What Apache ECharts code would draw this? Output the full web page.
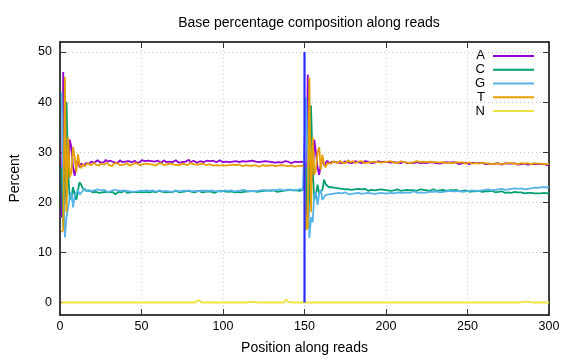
<!DOCTYPE html>
<html>
<head>
<meta charset="utf-8">
<script src="https://cdn.jsdelivr.net/npm/echarts@6/dist/echarts.min.js"></script>
<style>html,body{margin:0;padding:0;background:#fff}#c{width:576px;height:360px}</style>
</head>
<body>
<div id="c"></div>
<script>
const titleText = 'Base percentage composition along reads';
const xName = 'Position along reads';
const yName = 'Percent';
const seriesNames = ['A', 'C', 'G', 'T', 'N'];
const seriesColors = ['#9400d3', '#009e73', '#56b4e9', '#e69f00', '#f0e442'];
const yTicks = [0, 10, 20, 30, 40, 50];
const splitPos = 150;
const splitRange = [0, 50];

const A = [
17,46,21,25,24,32.5,31,27,25.3,27.5,28.5,27,27.8,27.3,27.6,
27.8,28.0,27.7,28.1,28.3,27.9,28.0,28.4,28.1,27.9,
28.2,28.0,28.5,28.1,27.9,28.3,28.6,28.0,28.2,27.8,
28.1,28.4,28.0,28.3,28.1,27.9,28.2,28.5,28.0,28.1,
28.3,27.9,28.2,28.0,28.4,28.1,28.2,27.9,28.3,28.0,
28.2,28.5,28.1,28.0,28.3,28.2,27.9,28.1,28.4,28.0,
28.2,28.1,28.3,28.0,28.2,28.4,28.1,27.9,28.2,28.0,
28.3,28.1,28.2,28.5,28.0,28.1,28.3,28.2,27.9,28.1,
28.2,28.4,28.0,28.1,28.3,28.1,28.2,28.0,28.3,28.1,
28.0,28.2,28.4,28.1,28.0,28.2,28.1,28.3,28.0,28.2,
28.1,27.9,28.2,28.3,28.0,28.1,28.2,28.4,28.1,28.0,
28.2,28.1,28.3,28.0,28.1,28.2,28.0,28.3,28.1,27.9,
28.2,28.0,28.1,28.3,28.0,28.1,27.9,28.2,28.0,28.1,
27.9,28.0,28.2,27.9,28.1,28.0,27.8,28.0,28.1,27.9,
28.0,27.9,28.1,28.0,27.9,
17,45.5,21,25,24,32.5,30,27,25.5,27.5,28.5,27.3,27.9,28.3,27.8,
27.9,28.1,27.8,28.0,28.2,27.9,28.1,27.8,28.0,28.2,
28.1,27.9,28.0,27.8,28.1,28.2,27.9,28.0,28.1,27.8,
28.0,28.2,27.9,28.1,28.0,27.8,28.1,27.9,28.0,28.2,
27.9,28.0,27.8,28.1,27.9,28.0,28.2,27.9,27.8,28.0,
28.1,27.9,28.0,27.8,28.0,28.1,27.9,27.8,28.0,27.9,
28.1,27.8,27.9,28.0,27.9,27.8,28.0,27.9,28.1,27.8,
27.9,28.0,27.8,27.9,28.1,27.8,27.9,27.7,28.0,27.9,
27.8,28.0,27.7,27.9,27.8,28.0,27.7,27.9,27.8,27.6,
27.9,27.8,27.7,27.9,27.8,27.6,27.8,27.9,27.7,27.8,
27.6,27.8,27.7,27.9,27.7,27.6,27.8,27.7,27.9,27.6,
27.8,27.7,27.6,27.8,27.7,27.5,27.7,27.8,27.6,27.7,
27.5,27.7,27.6,27.8,27.6,27.5,27.7,27.6,27.5,27.7,
27.6,27.5,27.7,27.6,27.5,27.6,27.4,27.6,27.5,27.6,
27.5,27.6,27.5,27.4,27.6
];

const C = [
27,15,21,40,26,20.5,21,23,21.5,20.5,22.3,24,23.5,22.8,22.5,
22.3,22.1,22.4,22.2,22.0,22.3,22.1,22.2,21.9,22.2,
22.0,22.3,22.1,22.2,22.0,22.3,22.1,21.9,21.6,21.8,
22.1,22.2,22.0,22.1,22.3,21.9,22.1,22.0,22.2,22.1,
21.9,22.0,22.2,22.1,21.9,22.0,22.2,22.1,22.3,22.0,
22.1,22.2,21.9,22.0,22.1,22.3,22.0,22.1,22.2,22.0,
21.9,22.1,22.2,22.0,22.1,22.3,22.1,22.0,22.2,22.1,
22.0,22.2,22.1,22.3,22.0,22.1,22.2,22.0,22.1,22.3,
22.1,22.0,22.2,22.1,22.3,22.2,22.0,22.1,22.2,21.9,
22.1,22.2,22.0,22.3,22.1,22.2,22.0,22.1,22.3,22.2,
22.1,22.0,22.2,22.1,22.3,22.0,22.2,22.1,22.3,22.2,
22.0,22.2,22.1,22.3,22.2,22.1,22.4,22.2,22.1,22.3,
22.2,22.4,22.1,22.3,22.2,22.4,22.3,22.1,22.3,22.2,
22.4,22.3,22.2,22.4,22.3,22.5,22.3,22.4,22.2,22.4,
22.5,22.3,22.4,22.5,22.4,
27,15,21.5,39.3,27,20.5,21.5,23.5,21.8,21.5,22.5,24.5,23.6,23.3,23.0,
23.2,23.0,23.3,22.9,23.1,22.8,23.0,22.7,22.9,22.6,
22.8,22.6,22.7,22.5,22.8,22.6,22.4,22.7,22.5,22.6,
22.4,22.7,22.5,22.3,22.6,22.5,22.7,22.4,22.6,22.5,
22.3,22.6,22.4,22.5,22.7,22.4,22.5,22.3,22.6,22.4,
22.5,22.6,22.4,22.3,22.5,22.4,22.6,22.5,22.3,22.4,
22.6,22.4,22.5,22.3,22.4,22.6,22.4,22.5,22.3,22.4,
22.5,22.3,22.4,22.6,22.4,22.3,22.5,22.4,22.3,22.5,
22.4,22.3,22.5,22.4,22.2,22.4,22.3,22.5,22.3,22.2,
22.4,22.3,22.2,22.4,22.3,22.1,22.3,22.2,22.4,22.2,
22.1,22.3,22.2,22.1,22.3,22.2,22.0,22.2,22.1,22.3,
22.1,22.0,22.2,22.1,22.0,22.2,22.1,21.9,22.1,22.0,
22.1,21.9,22.0,22.1,21.9,22.0,21.8,22.0,21.9,21.8,
22.0,21.9,21.8,21.9,22.0,21.8,21.9,21.8,21.9,21.8,
21.7,21.9,21.8,21.8,21.9
];

const G = [
42,24.5,13,17,17,21,22,19,21.2,22,22.5,21.5,21.9,22.3,22.7,
22.4,22.2,22.5,22.3,22.1,22.4,22.2,22.6,22.3,22.4,
22.2,22.5,22.3,22.1,22.4,22.2,22.3,22.5,22.8,22.4,
22.2,22.3,22.1,22.4,22.2,22.3,22.5,22.2,22.4,22.1,
22.3,22.2,22.4,22.3,22.1,22.3,22.2,22.4,22.1,22.3,
22.2,22.4,22.3,22.1,22.2,22.4,22.3,22.2,22.1,22.3,
22.4,22.2,22.3,22.1,22.2,22.4,22.3,22.2,22.4,22.3,
22.1,22.3,22.2,22.4,22.3,22.2,22.1,22.3,22.4,22.2,
22.3,22.4,22.2,22.3,22.1,22.3,22.2,22.4,22.3,22.2,
22.4,22.3,22.2,22.1,22.3,22.4,22.2,22.3,22.2,22.4,
22.3,22.2,22.4,22.3,22.2,22.4,22.3,22.5,22.3,22.2,
22.4,22.3,22.5,22.2,22.4,22.3,22.5,22.4,22.3,22.5,
22.4,22.3,22.5,22.4,22.6,22.4,22.3,22.5,22.4,22.6,
22.5,22.4,22.6,22.5,22.4,22.6,22.5,22.4,22.6,22.5,
22.4,22.6,22.5,22.6,22.5,
41,24.5,12.9,17,16,21.5,22,19.5,21.7,22.5,20.5,21.0,21.5,21.3,21.6,
21.4,21.7,21.5,21.8,21.6,21.9,21.7,21.8,21.6,22.0,
21.8,21.6,21.9,21.7,22.0,21.8,21.6,21.9,21.8,21.7,
22.0,21.8,21.6,21.9,21.7,21.8,22.0,21.7,21.9,21.8,
21.6,21.9,21.7,21.8,22.0,21.8,21.7,21.9,22.1,21.8,
21.9,22.0,21.8,21.9,22.1,21.9,21.8,22.0,22.1,21.9,
22.0,22.2,22.0,21.9,22.1,22.0,22.2,21.9,22.1,22.0,
22.2,22.1,21.9,22.1,22.0,22.2,22.1,22.0,22.2,22.1,
22.0,22.2,22.1,22.3,22.1,22.2,22.0,22.2,22.1,22.3,
22.2,22.1,22.3,22.2,22.1,22.3,22.2,22.4,22.2,22.3,
22.4,22.3,22.5,22.4,22.3,22.5,22.4,22.6,22.5,22.4,
22.6,22.5,22.4,22.6,22.5,22.7,22.6,22.5,22.7,22.6,
22.5,22.7,22.6,22.8,22.6,22.7,22.6,22.8,22.7,22.6,
22.8,22.7,22.9,22.8,22.7,22.9,23.0,22.9,23.1,23.0,
23.1,23.0,23.1,23.0,23.1
];

const T = [
14,14.5,45,18,33,25,26,31,29,26,29.6,27.5,26.8,27.6,27.2,
27.5,27.8,27.6,27.4,27.7,27.9,27.5,27.6,27.3,27.7,
27.8,27.5,27.6,27.9,27.4,27.6,27.2,27.7,27.5,27.8,
27.6,27.4,27.7,27.5,27.6,27.8,27.5,27.3,27.6,27.7,
27.5,27.8,27.6,27.4,27.7,27.6,27.5,27.7,27.4,27.6,
27.8,27.5,27.6,27.3,27.7,27.6,27.8,27.5,27.4,27.7,
27.6,27.5,27.7,27.8,27.5,27.6,27.4,27.7,27.5,27.6,
27.7,27.5,27.4,27.6,27.8,27.5,27.6,27.7,27.5,27.4,
27.6,27.5,27.7,27.6,27.4,27.5,27.6,27.5,27.3,27.5,
27.4,27.6,27.3,27.5,27.4,27.2,27.3,27.5,27.4,27.3,
27.5,27.2,27.4,27.3,27.5,27.4,27.2,27.3,27.4,27.2,
27.3,27.5,27.3,27.2,27.4,27.3,27.1,27.3,27.4,27.2,
27.3,27.1,27.3,27.2,27.4,27.3,27.2,27.1,27.3,27.2,
27.4,27.2,27.3,27.1,27.2,27.4,27.3,27.2,27.1,27.3,
27.2,27.4,27.3,27.2,27.3,
14.5,15,44.9,18,33,25.5,26.5,30,31,26.5,29.5,27.5,27.0,27.8,28.0,
27.7,28.0,28.2,27.9,27.8,28.1,28.3,27.9,28.0,27.8,
28.1,28.4,28.0,27.9,28.2,27.8,28.0,28.1,27.9,28.2,
28.0,27.8,28.1,27.9,28.2,28.0,27.9,28.1,27.8,28.0,
28.2,27.9,28.1,28.0,27.8,28.1,27.9,28.2,28.0,27.9,
28.1,27.8,28.0,28.2,27.9,28.0,28.1,27.9,28.0,27.8,
28.1,28.0,27.9,28.2,27.9,28.0,27.8,28.1,27.9,28.0,
27.8,28.1,27.9,28.0,27.8,28.0,28.1,27.9,27.8,28.0,
27.9,27.8,28.0,27.9,28.1,27.8,27.9,28.0,27.8,27.9,
27.8,28.0,27.9,27.7,27.9,28.0,27.8,27.7,27.9,27.8,
27.9,27.7,27.8,27.9,27.7,27.8,27.9,27.7,27.8,27.6,
27.8,27.7,27.9,27.7,27.8,27.6,27.8,27.7,27.6,27.8,
27.7,27.8,27.6,27.7,27.8,27.6,27.7,27.8,27.6,27.7,
27.6,27.8,27.7,27.6,27.7,27.8,27.6,27.7,27.6,27.7,
27.8,27.6,27.7,27.6,27.7
];

const N = [
0,0,0,0,0,0,0,0,0,0,0,0,0,0,0,0,0,0,0,0,0,0,0,0,0,0,0,0,0,0,
0,0,0,0,0,0,0,0,0,0,0,0,0,0,0,0,0,0,0,0,0,0,0,0,0,0,0,0,0,0,
0,0,0,0,0,0,0,0,0,0,0,0,0,0,0,0,0,0,0,0,0,0,0,0,0.5,0.15,0,0,0,0,
0,0,0,0,0,0,0,0,0,0,0,0,0,0,0,0,0,0,0,0,0,0,0,0,0,0,0.1,0.15,0.1,0,
0,0,0,0.3,0,0,0,0,0,0,0,0,0,0,0,0,0,0,0.6,0.1,0,0,0,0,0,0,0,0,0,0,
0,0,0,0,0,0,0,0,0,0,0,0,0,0,0,0,0,0,0,0,0,0,0,0,0,0,0,0,0,0,
0,0,0,0,0,0,0,0,0,0,0,0,0,0,0,0,0,0,0,0,0,0,0,0,0,0,0,0,0,0,
0,0,0,0,0,0,0,0,0,0,0,0,0,0,0,0,0,0,0,0,0,0,0,0,0,0,0,0,0,0,
0,0,0,0,0,0,0,0,0,0,0,0,0,0,0,0,0,0,0,0,0,0,0,0,0,0,0,0,0,0,
0,0,0,0,0,0,0,0,0,0,0,0,0.1,0.1,0.15,0.15,0.15,0.1,0.1,0,0,0,0,0,0,0,0,0,0,0
];

const allValues = [A, C, G, T, N];
const FONT = '"Liberation Sans", Arial, sans-serif';

const chart = echarts.init(document.getElementById('c'), null, {renderer: 'canvas'});

const lineSeries = allValues.map((vals, k) => ({
  name: seriesNames[k],
  type: 'line',
  showSymbol: false,
  symbol: 'none',
  animation: false,
  color: seriesColors[k],
  lineStyle: {width: 1.8, color: seriesColors[k]},
  data: vals.map((v, i) => [i + 1, v]),
  z: 2 + k
}));

lineSeries.push({
  name: 'split',
  type: 'line',
  showSymbol: false,
  symbol: 'none',
  animation: false,
  lineStyle: {width: 2.2, color: '#2a2aff'},
  data: [[splitPos, splitRange[0]], [splitPos, splitRange[1]]],
  z: 10
});

const gridLine = {show: true, lineStyle: {color: '#c8c8c8', type: [1, 3], width: 1}};

chart.setOption({
  backgroundColor: '#fff',
  animation: false,
  title: {
    text: titleText,
    left: 304, top: 11, textAlign: 'center',
    textStyle: {fontFamily: FONT, fontSize: 14, fontWeight: 'normal', color: '#000'}
  },
  legend: {
    data: seriesNames,
    orient: 'vertical',
    right: 42, top: 49,
    padding: 0,
    align: 'right',
    icon: 'rect',
    itemWidth: 41, itemHeight: 2, itemGap: 0,
    selectedMode: false,
    textStyle: {fontFamily: FONT, fontSize: 13, color: '#000', lineHeight: 13.8, padding: [0, 3, 0, 0]}
  },
  grid: {left: 60, right: 27, top: 42, bottom: 42.5, containLabel: false},
  xAxis: [{
    type: 'value', min: 0, max: 300, interval: 50,
    position: 'bottom',
    name: xName, nameLocation: 'middle', nameGap: 26,
    nameTextStyle: {fontFamily: FONT, fontSize: 14, color: '#000'},
    axisLine: {show: true, onZero: false, lineStyle: {color: '#000', width: 1.5}},
    axisTick: {show: true, inside: true, length: 6, lineStyle: {color: '#333', width: 1}},
    axisLabel: {fontFamily: FONT, fontSize: 12.5, color: '#000', margin: 5},
    splitLine: gridLine
  }, {
    type: 'value', min: 0, max: 300, interval: 50,
    position: 'top',
    axisLine: {show: true, onZero: false, lineStyle: {color: '#000', width: 1.5}},
    axisTick: {show: true, inside: true, length: 6, lineStyle: {color: '#333', width: 1}},
    axisLabel: {show: false},
    splitLine: {show: false}
  }],
  yAxis: [{
    type: 'value', min: -2.5, max: 52,
    position: 'left',
    name: yName, nameLocation: 'middle', nameGap: 38, nameRotate: 90,
    nameTextStyle: {fontFamily: FONT, fontSize: 14, color: '#000'},
    axisLine: {show: true, onZero: false, lineStyle: {color: '#000', width: 1.5}},
    axisTick: {show: true, inside: true, length: 6, customValues: yTicks, lineStyle: {color: '#333', width: 1}},
    axisLabel: {fontFamily: FONT, fontSize: 12.5, color: '#000', margin: 8, customValues: yTicks},
    splitLine: gridLine
  }, {
    type: 'value', min: -2.5, max: 52,
    position: 'right',
    axisLine: {show: true, onZero: false, lineStyle: {color: '#000', width: 1.5}},
    axisTick: {show: true, inside: true, length: 6, customValues: yTicks, lineStyle: {color: '#333', width: 1}},
    axisLabel: {show: false, customValues: yTicks},
    splitLine: {show: false}
  }],
  series: lineSeries
});
</script>
</body>
</html>
